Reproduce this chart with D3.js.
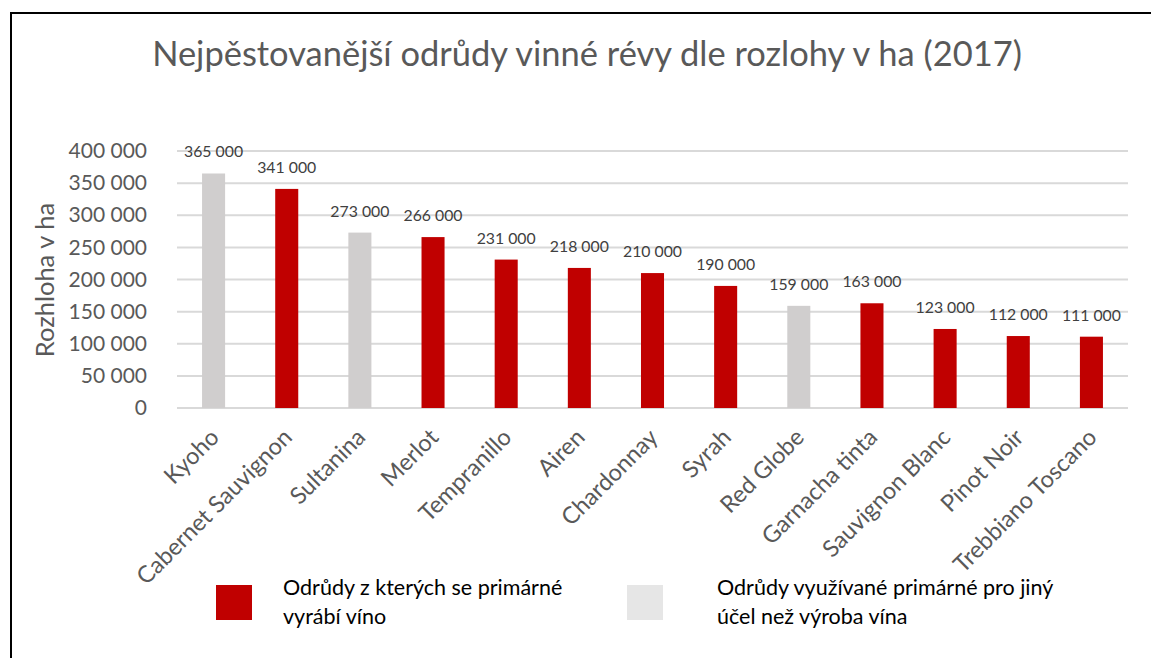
<!DOCTYPE html>
<meta charset="utf-8">
<head>
<script src="https://d3js.org/d3.v7.min.js"></script>
<style>
  body { margin: 0; background: #fff; }
  text { font-family: Lato, "Open Sans", sans-serif; }
</style>
</head>
<body>
<svg id="chart"></svg>
<script>
// data
var odrudy = ["Kyoho", "Cabernet Sauvignon", "Sultanina", "Merlot", "Tempranillo", "Airen",
              "Chardonnay", "Syrah", "Red Globe", "Garnacha tinta", "Sauvignon Blanc",
              "Pinot Noir", "Trebbiano Toscano"];
var rozloha = [365000, 341000, 273000, 266000, 231000, 218000, 210000, 190000, 159000,
               163000, 123000, 112000, 111000];
var vino = [false, true, false, true, true, true, true, true, false, true, true, true, true];
var yTicks = [0, 50000, 100000, 150000, 200000, 250000, 300000, 350000, 400000];
var legendTexts = [["Odrůdy z kterých se primárné", "vyrábí víno"],
                   ["Odrůdy využívané primárné pro jiný", "účel než výroba vína"]];

var W = 1151, H = 658;
var svg = d3.select("#chart").attr("width", W).attr("height", H);

var red = "#c00000", gray = "#d0cece", grayLeg = "#e6e6e6", txt = "#595959";

// frame
svg.append("path")
  .attr("d", "M11," + H + "V13H" + W)
  .attr("fill", "none").attr("stroke", "#000").attr("stroke-width", 2);

// title
var title = svg.append("text")
  .attr("x", 587).attr("y", 66)
  .attr("text-anchor", "middle")
  .attr("fill", txt)
  .style("font-size", "28px")
  .text("Nejpěstovanější odrůdy vinné révy dle rozlohy v ha (2017)");
// fit width to reference (~870px)
var tw = title.node().getComputedTextLength();
title.style("font-size", (28 * 870 / tw) + "px");

var x = d3.scaleBand().domain(odrudy).range([177, 1128]).paddingInner(0.685).paddingOuter(0.3425);
var y = d3.scaleLinear().domain([0, 400000]).range([408, 151]);

// grid
svg.append("g").selectAll("line").data(yTicks).join("line")
  .attr("x1", 177).attr("x2", 1128)
  .attr("y1", d => y(d)).attr("y2", d => y(d))
  .attr("stroke", "#d9d9d9").attr("stroke-width", 2);

// y axis labels
var fmt = d => d3.format(",")(d).replace(/,/g, " ");
var yAxis = svg.append("g").attr("transform", "translate(147,0)")
  .call(d3.axisLeft(y).tickValues(yTicks).tickFormat(fmt).tickSize(0).tickPadding(0));
yAxis.select(".domain").remove();
yAxis.selectAll("text").attr("fill", txt).style("font-size", "21px")
  .style("font-family", "Lato, sans-serif");

// y title
svg.append("text")
  .attr("transform", "translate(54,280) rotate(-90)")
  .attr("text-anchor", "middle")
  .attr("fill", txt)
  .style("font-size", "25.5px")
  .text("Rozhloha v ha");

// bars
svg.append("g").selectAll("rect").data(odrudy).join("rect")
  .attr("x", d => x(d))
  .attr("width", x.bandwidth())
  .attr("y", (d, i) => y(rozloha[i]))
  .attr("height", (d, i) => y(0) - y(rozloha[i]))
  .attr("fill", (d, i) => vino[i] ? red : gray);

// value labels
svg.append("g").selectAll("text").data(odrudy).join("text")
  .attr("x", d => x(d) + x.bandwidth() / 2)
  .attr("y", (d, i) => y(rozloha[i]) - 16)
  .attr("text-anchor", "middle")
  .attr("fill", "#404040")
  .style("font-size", "15.8px")
  .text((d, i) => fmt(rozloha[i]));

// x labels
svg.append("g").selectAll("text").data(odrudy).join("text")
  .attr("transform", d => "translate(" + (x(d) + x.bandwidth() / 2 + 1) + ",433) rotate(-45)")
  .attr("text-anchor", "end")
  .attr("dy", "0.35em")
  .attr("fill", txt)
  .style("font-size", "23.5px")
  .text(d => d);

// legend
var leg = svg.append("g");
var legX = [216, 627], legTx = [283, 717];
[red, grayLeg].forEach(function (c, i) {
  leg.append("rect").attr("x", legX[i]).attr("y", 585).attr("width", 36).attr("height", 35).attr("fill", c);
  var t = leg.append("text").attr("x", legTx[i]).attr("y", 595).attr("fill", "#000").style("font-size", "21.5px");
  legendTexts[i].forEach(function (s, j) {
    t.append("tspan").attr("x", legTx[i]).attr("dy", j ? 29 : 0).text(s);
  });
});
</script>
</body>
</html>
